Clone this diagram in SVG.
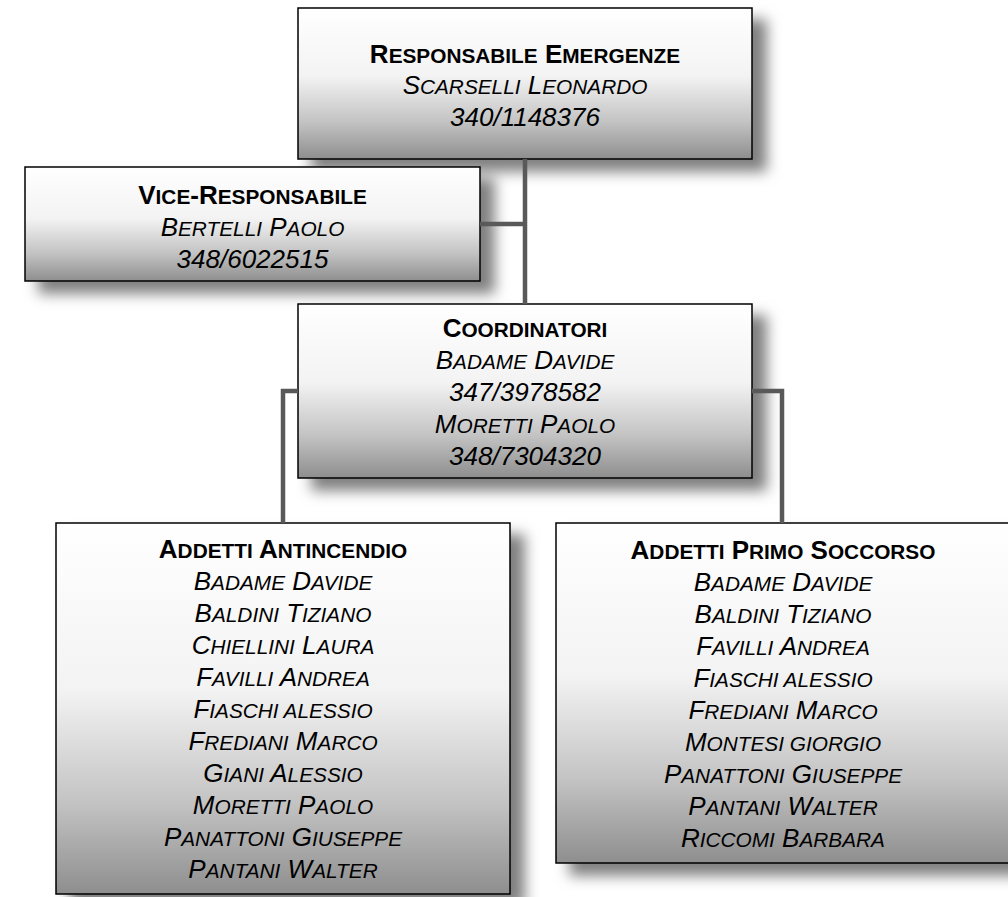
<svg xmlns="http://www.w3.org/2000/svg" width="1008" height="897" viewBox="0 0 1008 897">
  <defs>
    <linearGradient id="boxGrad" x1="0" y1="0" x2="0" y2="1">
      <stop offset="0" stop-color="#ffffff"/>
      <stop offset="0.45" stop-color="#f3f3f3"/>
      <stop offset="0.75" stop-color="#c4c4c4"/>
      <stop offset="1" stop-color="#8e8e8e"/>
    </linearGradient>
    <filter id="shadow" x="-20%" y="-20%" width="150%" height="150%">
      <feDropShadow dx="14" dy="12" stdDeviation="7" flood-color="#000000" flood-opacity="0.5"/>
    </filter>
    <style>
      .box { fill: url(#boxGrad); stroke: #000000; stroke-width: 1.5; filter: url(#shadow); }
      .h { font-family: "Liberation Sans", Arial, sans-serif; font-weight: bold; font-size: 26px; fill: #000000; text-anchor: middle; }
      .n { font-family: "Liberation Sans", Arial, sans-serif; font-style: italic; font-size: 26px; fill: #000000; text-anchor: middle; }
      .s { font-size: 20.8px; }
      .conn { fill: none; stroke: #595959; stroke-width: 4.5; }
    </style>
  </defs>

  <g id="node-responsabile">
    <rect class="box" x="298" y="8" width="454" height="151"/>
    <text class="h" x="525" y="63">R<tspan class="s">ESPONSABILE</tspan> E<tspan class="s">MERGENZE</tspan></text>
    <text class="n" x="525" y="94">S<tspan class="s">CARSELLI</tspan> L<tspan class="s">EONARDO</tspan></text>
    <text class="n" x="525" y="126">340/1148376</text>
  </g>

  <g id="node-vice">
    <rect class="box" x="25" y="167" width="455" height="114"/>
    <text class="h" x="252.5" y="204">V<tspan class="s">ICE</tspan>-R<tspan class="s">ESPONSABILE</tspan></text>
    <text class="n" x="252.5" y="236">B<tspan class="s">ERTELLI</tspan> P<tspan class="s">AOLO</tspan></text>
    <text class="n" x="252.5" y="268">348/6022515</text>
  </g>

  <g id="node-coordinatori">
    <rect class="box" x="298" y="304" width="454" height="174"/>
    <text class="h" x="525" y="337">C<tspan class="s">OORDINATORI</tspan></text>
    <text class="n" x="525" y="369">B<tspan class="s">ADAME</tspan> D<tspan class="s">AVIDE</tspan></text>
    <text class="n" x="525" y="401">347/3978582</text>
    <text class="n" x="525" y="433">M<tspan class="s">ORETTI</tspan> P<tspan class="s">AOLO</tspan></text>
    <text class="n" x="525" y="465">348/7304320</text>
  </g>

  <g id="node-antincendio">
    <rect class="box" x="56" y="523" width="454" height="371"/>
    <text class="h" x="283" y="558">A<tspan class="s">DDETTI</tspan> A<tspan class="s">NTINCENDIO</tspan></text>
    <text class="n" x="283" y="590">B<tspan class="s">ADAME</tspan> D<tspan class="s">AVIDE</tspan></text>
    <text class="n" x="283" y="622">B<tspan class="s">ALDINI</tspan> T<tspan class="s">IZIANO</tspan></text>
    <text class="n" x="283" y="654">C<tspan class="s">HIELLINI</tspan> L<tspan class="s">AURA</tspan></text>
    <text class="n" x="283" y="686">F<tspan class="s">AVILLI</tspan> A<tspan class="s">NDREA</tspan></text>
    <text class="n" x="283" y="718">F<tspan class="s">IASCHI ALESSIO</tspan></text>
    <text class="n" x="283" y="750">F<tspan class="s">REDIANI</tspan> M<tspan class="s">ARCO</tspan></text>
    <text class="n" x="283" y="782">G<tspan class="s">IANI</tspan> A<tspan class="s">LESSIO</tspan></text>
    <text class="n" x="283" y="814">M<tspan class="s">ORETTI</tspan> P<tspan class="s">AOLO</tspan></text>
    <text class="n" x="283" y="846">P<tspan class="s">ANATTONI</tspan> G<tspan class="s">IUSEPPE</tspan></text>
    <text class="n" x="283" y="878">P<tspan class="s">ANTANI</tspan> W<tspan class="s">ALTER</tspan></text>
  </g>

  <g id="node-primosoccorso">
    <rect class="box" x="556" y="523" width="454" height="340"/>
    <text class="h" x="783" y="559">A<tspan class="s">DDETTI</tspan> P<tspan class="s">RIMO</tspan> S<tspan class="s">OCCORSO</tspan></text>
    <text class="n" x="783" y="591">B<tspan class="s">ADAME</tspan> D<tspan class="s">AVIDE</tspan></text>
    <text class="n" x="783" y="623">B<tspan class="s">ALDINI</tspan> T<tspan class="s">IZIANO</tspan></text>
    <text class="n" x="783" y="655">F<tspan class="s">AVILLI</tspan> A<tspan class="s">NDREA</tspan></text>
    <text class="n" x="783" y="687">F<tspan class="s">IASCHI ALESSIO</tspan></text>
    <text class="n" x="783" y="719">F<tspan class="s">REDIANI</tspan> M<tspan class="s">ARCO</tspan></text>
    <text class="n" x="783" y="751">M<tspan class="s">ONTESI GIORGIO</tspan></text>
    <text class="n" x="783" y="783">P<tspan class="s">ANATTONI</tspan> G<tspan class="s">IUSEPPE</tspan></text>
    <text class="n" x="783" y="815">P<tspan class="s">ANTANI</tspan> W<tspan class="s">ALTER</tspan></text>
    <text class="n" x="783" y="847">R<tspan class="s">ICCOMI</tspan> B<tspan class="s">ARBARA</tspan></text>
  </g>

  <g id="connectors">
    <path class="conn" d="M525,159 V304"/>
    <path class="conn" d="M480,224 H525"/>
    <path class="conn" d="M298,391 H283 V523"/>
    <path class="conn" d="M752,391 H782 V523"/>
  </g>
</svg>
